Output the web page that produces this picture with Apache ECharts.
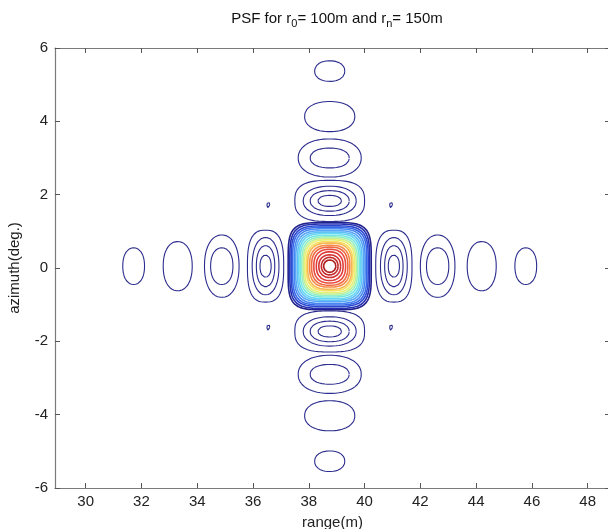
<!DOCTYPE html>
<html>
<head>
<meta charset="utf-8">
<script src="https://cdn.jsdelivr.net/npm/echarts@6/dist/echarts.min.js"></script>
<style>
  html, body { margin: 0; padding: 0; background: #ffffff; }
  #chart { width: 608px; height: 529px; }
</style>
</head>
<body>
<div id="chart"></div>
<script>
// Axis ticks
const rangeTicks = [30, 32, 34, 36, 38, 40, 42, 44, 46, 48];
const azimuthTicks = [-6, -4, -2, 0, 2, 4, 6];

// Peak of the point spread function
const peakRange = 38.75;
const peakAzimuth = 0.05;

// Main lobe contours, outermost (lowest level) first: half extents in m and deg
const mainHalfRange = [1.49, 1.43, 1.38, 1.33, 1.27, 1.22, 1.16, 1.11, 1.06, 1.00, 0.95, 0.90, 0.84, 0.79, 0.72, 0.65, 0.57, 0.48, 0.39, 0.30, 0.22];
const mainHalfAzimuth = [1.19, 1.15, 1.10, 1.06, 1.02, 0.97, 0.93, 0.89, 0.84, 0.80, 0.76, 0.72, 0.67, 0.63, 0.57, 0.52, 0.46, 0.39, 0.31, 0.24, 0.17];
const mainColors = ['#22228c', '#2530b0', '#2c48d0', '#3868e6', '#4888f2', '#58a6f8', '#62c0f8', '#66d6f2', '#74e6e2', '#94f0c4', '#c0f09a',
                    '#e6f074', '#f6e062', '#f8b652', '#f48a46', '#f06a42', '#e84e40', '#e03c3a', '#d43232', '#c42a2a', '#b02222'];

// Side lobes along range, mirrored on both sides of the peak
const rangeLobeOffset = [2.3, 3.87, 5.45, 7.03];
const rangeLobeHalfRange = [[0.65, 0.48, 0.33, 0.20], [0.62, 0.40], [0.52], [0.39]];
const rangeLobeHalfAzimuth = [[0.98, 0.78, 0.56, 0.30], [0.85, 0.50], [0.67], [0.50]];

// Side lobes along azimuth, mirrored above and below the peak
const azLobeOffset = [1.78, 2.95, 4.08, 5.32];
const azLobeHalfRange = [[1.25, 0.95, 0.70, 0.42], [1.13, 0.70], [0.90], [0.54]];
const azLobeHalfAzimuth = [[0.56, 0.40, 0.28, 0.15], [0.52, 0.27], [0.41], [0.28]];

// Diagonal side lobes (tiny closed contours)
const diagOffsetRange = 2.2;
const diagOffsetAzimuth = 1.67;
const diagHalfRange = 0.05;
const diagHalfAzimuth = 0.08;

const lowLevelColor = '#2c2c8e';
const fontFamily = '"Liberation Sans", Arial, Helvetica, sans-serif';

// Closed superellipse outline of a contour ring in data coordinates
function ring(cx, cy, a, b, n) {
  const pts = [];
  const N = 120;
  for (let i = 0; i <= N; i++) {
    const t = 2 * Math.PI * i / N;
    const c = Math.cos(t), s = Math.sin(t);
    pts.push([
      cx + a * Math.sign(c) * Math.pow(Math.abs(c), 2 / n),
      cy + b * Math.sign(s) * Math.pow(Math.abs(s), 2 / n)
    ]);
  }
  return pts;
}

function contourSeries(points, color, width) {
  return {
    type: 'line',
    data: points,
    showSymbol: false,
    symbol: 'none',
    silent: true,
    animation: false,
    lineStyle: { color: color, width: width }
  };
}

const series = [];

// Main lobe: squarish outer rings, rounder towards the peak
mainHalfRange.forEach((a, i) => {
  const n = 4.5 - 2.5 * i / (mainHalfRange.length - 1);
  series.push(contourSeries(ring(peakRange, peakAzimuth, a, mainHalfAzimuth[i], n), mainColors[i], 1.6));
});

// Range side lobes
rangeLobeOffset.forEach((off, k) => {
  [-1, 1].forEach(side => {
    rangeLobeHalfRange[k].forEach((a, j) => {
      const n = j === 0 && rangeLobeHalfRange[k].length > 2 ? 2.8 : 2.2;
      series.push(contourSeries(ring(peakRange + side * off, peakAzimuth, a, rangeLobeHalfAzimuth[k][j], n), lowLevelColor, 1.1));
    });
  });
});

// Azimuth side lobes
azLobeOffset.forEach((off, k) => {
  [-1, 1].forEach(side => {
    azLobeHalfRange[k].forEach((a, j) => {
      const n = j === 0 && azLobeHalfRange[k].length > 2 ? 2.8 : 2.2;
      series.push(contourSeries(ring(peakRange, peakAzimuth + side * off, a, azLobeHalfAzimuth[k][j], n), lowLevelColor, 1.1));
    });
  });
});

// Diagonal lobes
[-1, 1].forEach(sx => {
  [-1, 1].forEach(sy => {
    series.push(contourSeries(ring(peakRange + sx * diagOffsetRange, peakAzimuth + sy * diagOffsetAzimuth, diagHalfRange, diagHalfAzimuth, 2), lowLevelColor, 1.1));
  });
});

const frameLine = { show: true, onZero: false, lineStyle: { color: '#7a7a7a', width: 1.2 } };
const tickStyle = { color: '#555555', width: 1 };
const labelStyle = { color: '#222222', fontSize: 15, fontFamily: fontFamily };

const option = {
  backgroundColor: '#ffffff',
  animation: false,
  title: {
    text: '{a|PSF for r}{s|0}{a|= 100m and r}{s|n}{a|= 150m}',
    left: 332,
    textAlign: 'center',
    top: 4,
    textStyle: {
      rich: {
        a: { fontSize: 15, lineHeight: 20, color: '#111111', fontFamily: fontFamily, fontWeight: 'normal' },
        s: { fontSize: 11, lineHeight: 12, color: '#111111', fontFamily: fontFamily, fontWeight: 'normal', verticalAlign: 'bottom' }
      }
    }
  },
  grid: { left: 55, right: -2, top: 48, bottom: 41, containLabel: false, outerBoundsMode: 'none' },
  xAxis: [
    {
      type: 'value', min: 28.9, max: 48.8, position: 'bottom',
      axisLine: frameLine,
      axisTick: { inside: true, length: 5, customValues: rangeTicks, lineStyle: tickStyle },
      axisLabel: Object.assign({ customValues: rangeTicks, margin: 6 }, labelStyle),
      splitLine: { show: false },
      name: 'range(m)', nameLocation: 'middle', nameGap: 27,
      nameTextStyle: labelStyle
    },
    {
      type: 'value', min: 28.9, max: 48.8, position: 'top',
      axisLine: frameLine,
      axisTick: { inside: true, length: 5, customValues: rangeTicks, lineStyle: tickStyle },
      axisLabel: { show: false },
      splitLine: { show: false }
    }
  ],
  yAxis: [
    {
      type: 'value', min: -6, max: 6, interval: 2, position: 'left',
      axisLine: frameLine,
      axisTick: { inside: true, length: 5, lineStyle: tickStyle },
      axisLabel: Object.assign({ margin: 7, customValues: azimuthTicks }, labelStyle),
      splitLine: { show: false },
      name: 'azimuth(deg.)', nameLocation: 'middle', nameGap: 33, nameRotate: 90,
      nameTextStyle: labelStyle
    },
    {
      type: 'value', min: -6, max: 6, interval: 2, position: 'right',
      axisLine: frameLine,
      axisTick: { inside: true, length: 5, lineStyle: tickStyle },
      axisLabel: { show: false },
      splitLine: { show: false }
    }
  ],
  series: series
};

const chart = echarts.init(document.getElementById('chart'), null, { renderer: 'canvas' });
chart.setOption(option);
</script>
</body>
</html>
